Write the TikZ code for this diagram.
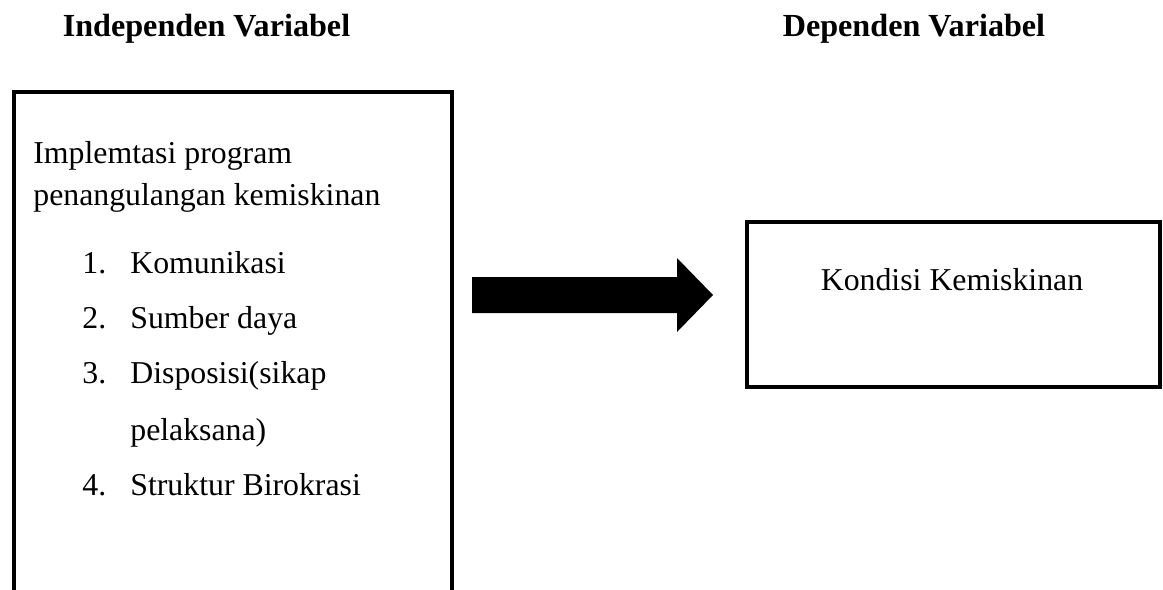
\documentclass[tikz,border=0pt]{standalone}
\usepackage{fontspec}
\setmainfont{Liberation Serif}
\usetikzlibrary{positioning}
\tikzset{
	kotak/.style={draw, line width=0.8mm, inner sep=0pt},
	teks/.style={anchor=base west, inner sep=0pt, font=\fontsize{18.1}{21}\selectfont},
	judul/.style={anchor=base, inner sep=0pt, font=\fontsize{18.3}{21}\selectfont\bfseries}
}
\begin{document}
\begin{tikzpicture}[x=0.02cm,y=-0.02cm]
	\clip (0,0) rectangle (1163,589);
	% headings
		\node[judul] (judulind) at (206.5,36) {Independen Variabel};
		\node[judul] (juduldep) at (914,36) {Dependen Variabel};
	% independent box (open at the bottom)
		\node[kotak, anchor=north west, minimum width=87.6mm, minimum height=120mm] (indep) at (12,90) {};
		\node[teks] (impl) at (33,163) {Implemtasi program};
		\node[teks] (penang) at (33,205) {penangulangan kemiskinan};
		\node[teks] (n1) at (82,273) {1.};	\node[teks] (i1) at (130,273) {Komunikasi};
		\node[teks] (n2) at (82,328) {2.};	\node[teks] (i2) at (130,328) {Sumber daya};
		\node[teks] (n3) at (82,383) {3.};	\node[teks] (i3) at (130,383) {Disposisi(sikap};
		\node[teks] (i3b) at (130,440) {pelaksana)};
		\node[teks] (n4) at (82,495) {4.};	\node[teks] (i4) at (130,495) {Struktur Birokrasi};
	% dependent box
		\node[kotak, anchor=north west, minimum width=82.6mm, minimum height=33mm] (dep) at (745,220) {};
		\node[teks, anchor=base] (kondisi) at (952,290) {Kondisi Kemiskinan};
	% block arrow
		\fill (472,277) -- (677,277) -- (677,258) -- (713,295) -- (677,332) -- (677,313) -- (472,313) -- cycle;
\end{tikzpicture}
\end{document}
